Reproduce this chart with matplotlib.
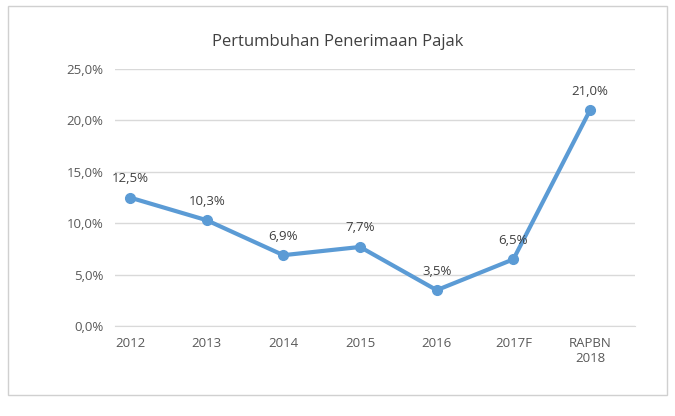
import matplotlib
matplotlib.use("Agg")
import matplotlib.pyplot as plt
from matplotlib.patches import Rectangle

categories = ["2012", "2013", "2014", "2015", "2016", "2017F", "RAPBN\n2018"]
values = [12.5, 10.3, 6.9, 7.7, 3.5, 6.5, 21.0]
labels = ["12,5%", "10,3%", "6,9%", "7,7%", "3,5%", "6,5%", "21,0%"]
yticks = [0, 5, 10, 15, 20, 25]
ytick_labels = ["0,0%", "5,0%", "10,0%", "15,0%", "20,0%", "25,0%"]

plt.rcParams['font.family'] = ['Open Sans', 'DejaVu Sans']
fig = plt.figure(figsize=(6.75, 4.16), dpi=100)
fig.patches.append(Rectangle((0.012, 0.05), 0.976, 0.935, transform=fig.transFigure,
                             fill=False, edgecolor="#d0d0d0", linewidth=1))
ax = fig.add_axes([0.17, 0.216, 0.77, 0.618])
x = list(range(len(categories)))
ax.plot(x, values, color="#5B9BD5", linewidth=3, marker="o", markersize=7)
for xi, v, l in zip(x, values, labels):
    ax.annotate(l, (xi, v), xytext=(0, 9), textcoords="offset points",
                ha="center", va="bottom", fontsize=9.5, color="#404040")
ax.set_ylim(0, 25)
ax.set_xlim(-0.2, 6.58)
ax.set_yticks(yticks)
ax.set_yticklabels(ytick_labels)
ax.set_xticks(x)
ax.set_xticklabels(categories)
ax.tick_params(length=0, labelsize=9.5, labelcolor="#595959", pad=8)
ax.grid(axis="y", color="#d9d9d9", linewidth=1)
ax.set_axisbelow(True)
for s in ["top", "right", "left"]:
    ax.spines[s].set_visible(False)
ax.spines["bottom"].set_color("#d9d9d9")
fig.text(0.5, 0.9, "Pertumbuhan Penerimaan Pajak", ha="center", va="center",
         fontsize=12, color="#404040")
fig.savefig("out.png")
